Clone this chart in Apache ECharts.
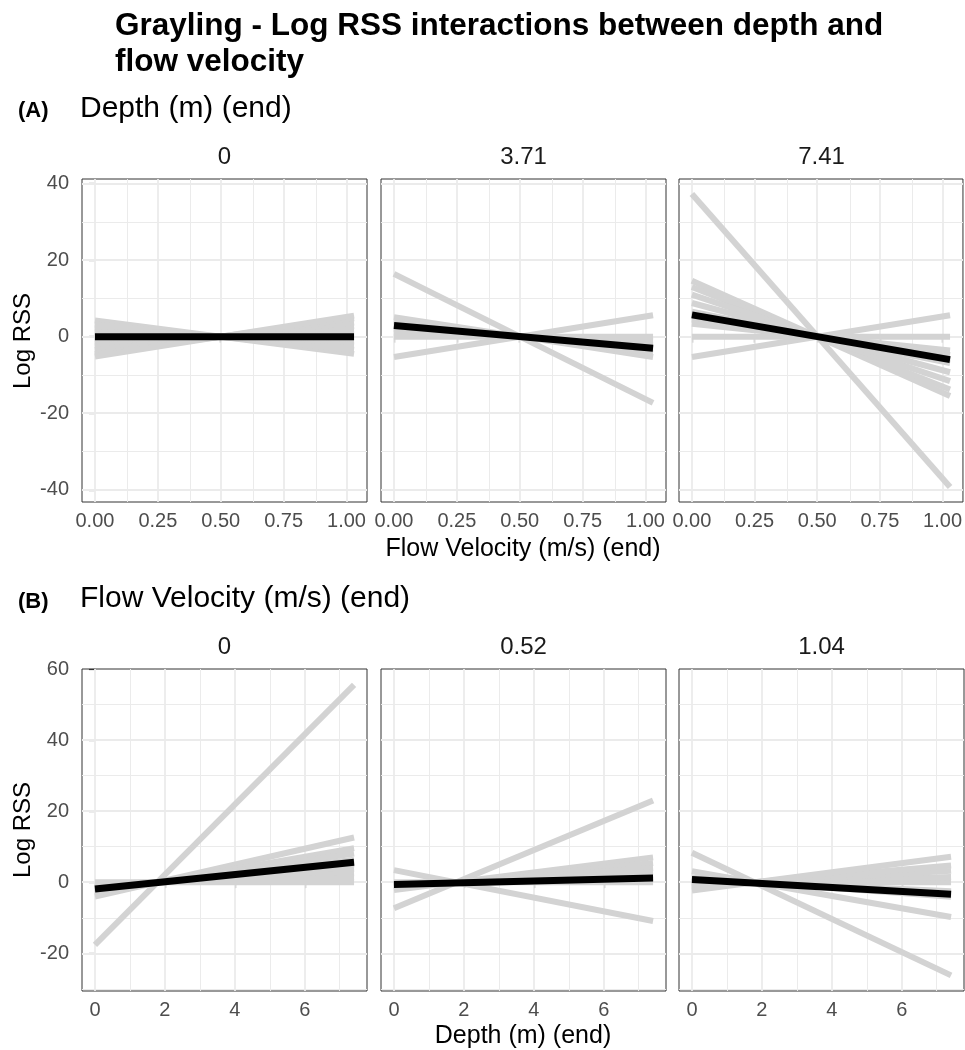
<!DOCTYPE html>
<html>
<head>
<meta charset="utf-8">
<script src="https://cdn.jsdelivr.net/npm/echarts@6/dist/echarts.min.js"></script>
<style>
  html, body { margin: 0; padding: 0; background: #fff; }
  #chart { width: 965px; height: 1050px; }
</style>
</head>
<body>
<div id="chart"></div>
<script>
// x end points of every fitted line
var velEnds = [0, 1.03];
var depthEnds = [0, 7.41];

// facet labels
var depthFacets = ['0', '3.71', '7.41'];
var velFacets = ['0', '0.52', '1.04'];

// tick labels
var velTicks = [0, 0.25, 0.5, 0.75, 1];
var depthTicks = [0, 2, 4, 6];
var rssTicksA = [-40, -20, 0, 20, 40];
var rssTicksB = [-20, 0, 20, 40, 60];

// gray lines: [log RSS at start, log RSS at end]
var depth0Gray = [[4.2, -4.5], [3.2, -3.4], [2.2, -2.3], [1.2, -1.3], [0.4, -0.4], [-0.5, 0.5],
    [-1.5, 1.6], [-2.5, 2.7], [-3.5, 3.7], [-4.5, 4.8], [-5.2, 5.5]];
var depth0Mean = [0, 0];
var depth371Gray = [[16.4, -17.3], [5.1, -5.3], [4, -4.2], [3, -3.2], [2, -2.1], [1, -1.1], [0, 0], [-5.3, 5.6]];
var depth371Mean = [2.9, -3.0];
var depth741Gray = [[37.3, -39.3], [14.6, -15.5], [13, -13.8], [11, -11.6], [8.8, -9.3], [6.5, -6.9],
    [4.5, -4.8], [3.4, -3.6], [0, 0], [-5.3, 5.6]];
var depth741Mean = [5.7, -6.0];

var vel0Gray = [[-17.6, 55.5], [-4, 12.6], [-3.1, 9.6], [-2.6, 8.1], [-2, 6.3], [-1.6, 5], [-1.2, 3.8],
    [-0.8, 2.5], [-0.4, 1.3], [0, 0]];
var vel0Mean = [-1.9, 5.6];
var vel052Gray = [[-7.3, 23], [3.4, -10.9], [-2.2, 7], [-1.7, 5.4], [-1.3, 4], [-0.9, 2.8], [-0.5, 1.6], [0, 0]];
var vel052Mean = [-0.6, 1.2];
var vel104Gray = [[8.3, -26.2], [3.1, -9.8], [1.3, -4.1], [0.8, -2.5], [0, 0], [-0.5, 1.5], [-1, 3.2],
    [-1.5, 4.7], [-2.3, 7.2]];
var vel104Mean = [0.8, -3.4];

var FONT = '"Liberation Sans", Arial, sans-serif';
var lefts = [82, 381, 679];
var panelW = 285;

var panels = [
    { row: 0, gray: depth0Gray, mean: depth0Mean },
    { row: 0, gray: depth371Gray, mean: depth371Mean },
    { row: 0, gray: depth741Gray, mean: depth741Mean },
    { row: 1, gray: vel0Gray, mean: vel0Mean },
    { row: 1, gray: vel052Gray, mean: vel052Mean },
    { row: 1, gray: vel104Gray, mean: vel104Mean }
];

var rows = [
    { top: 179, height: 323, xEnds: velEnds, xMin: -0.0515, xMax: 1.0815, xTicks: velTicks,
      xMinor: [0.125, 0.375, 0.625, 0.875], yMin: -43.2, yMax: 41.2, yTicks: rssTicksA,
      yMinor: [-30, -10, 10, 30], fmt: function (v) { return v.toFixed(2); } },
    { top: 669, height: 322, xEnds: depthEnds, xMin: -0.37, xMax: 7.78, xTicks: depthTicks,
      xMinor: [1, 3, 5, 7], yMin: -30.6, yMax: 60, yTicks: rssTicksB,
      yMinor: [-30, -10, 10, 30, 50], fmt: function (v) { return String(v); } }
];

var grids = [], xAxes = [], yAxes = [], series = [];

panels.forEach(function (p, i) {
    var r = rows[p.row];
    var col = i % 3;
    grids.push({
        left: lefts[col], top: r.top, width: panelW, height: r.height,
        show: true, borderColor: '#333333', borderWidth: 1, backgroundColor: '#fff'
    });
    xAxes.push({
        type: 'value', gridIndex: i, min: r.xMin, max: r.xMax,
        axisLine: { show: false },
        splitLine: { show: false },
        axisTick: { show: true, customValues: r.xTicks, length: 6, lineStyle: { color: '#333333', width: 1.2 } },
        axisLabel: { customValues: r.xTicks, formatter: r.fmt, color: '#4d4d4d', fontSize: 20,
            fontFamily: FONT, margin: 9 }
    });
    yAxes.push({
        type: 'value', gridIndex: i, min: r.yMin, max: r.yMax,
        axisLine: { show: false },
        splitLine: { show: false },
        axisTick: { show: col === 0, customValues: r.yTicks, length: 6, lineStyle: { color: '#333333', width: 1.2 } },
        axisLabel: { show: col === 0, customValues: r.yTicks, color: '#4d4d4d', fontSize: 20,
            fontFamily: FONT, margin: 13 }
    });

    // panel grid lines, placed through the axes
    var gl = [];
    r.xTicks.forEach(function (v) { gl.push({ xAxis: v, lineStyle: { width: 1.8 } }); });
    r.xMinor.forEach(function (v) { gl.push({ xAxis: v, lineStyle: { width: 1 } }); });
    r.yTicks.forEach(function (v) { if (v < r.yMax) gl.push({ yAxis: v, lineStyle: { width: 1.8 } }); });
    r.yMinor.forEach(function (v) { if (v > r.yMin) gl.push({ yAxis: v, lineStyle: { width: 1 } }); });
    series.push({
        type: 'line', xAxisIndex: i, yAxisIndex: i, data: [], z: 1, silent: true,
        markLine: {
            z: 1, silent: true, symbol: ['none', 'none'], animation: false,
            label: { show: false },
            lineStyle: { color: '#ebebeb', type: 'solid' },
            emphasis: { disabled: true },
            data: gl
        }
    });

    p.gray.forEach(function (g) {
        series.push({
            type: 'line', xAxisIndex: i, yAxisIndex: i, z: 2, silent: true,
            symbol: 'none', animation: false,
            lineStyle: { color: '#d3d3d3', width: 6, cap: 'butt' },
            data: [[r.xEnds[0], g[0]], [r.xEnds[1], g[1]]]
        });
    });
    series.push({
        type: 'line', xAxisIndex: i, yAxisIndex: i, z: 3, silent: true,
        symbol: 'none', animation: false,
        lineStyle: { color: '#000000', width: 7, cap: 'butt' },
        data: [[r.xEnds[0], p.mean[0]], [r.xEnds[1], p.mean[1]]]
    });
});

function txt(x, y, text, size, opts) {
    opts = opts || {};
    return {
        type: 'text', x: x, y: y, rotation: opts.rot || 0, z: 10,
        style: {
            text: text, fontSize: size, fontFamily: FONT, fontWeight: opts.bold ? 'bold' : 'normal',
            fill: opts.color || '#000', textAlign: opts.align || 'left', textVerticalAlign: 'middle'
        }
    };
}

var graphics = [
    txt(115, 26, 'Grayling - Log RSS interactions between depth and', 31.5, { bold: true }),
    txt(115, 62, 'flow velocity', 31.5, { bold: true }),
    txt(18, 111, '(A)', 22, { bold: true }),
    txt(80, 109, 'Depth (m) (end)', 30),
    txt(18, 602, '(B)', 22, { bold: true }),
    txt(80, 599, 'Flow Velocity (m/s) (end)', 30),
    txt(523, 549, 'Flow Velocity (m/s) (end)', 25, { align: 'center' }),
    txt(523, 1036, 'Depth (m) (end)', 25, { align: 'center' }),
    txt(23, 341, 'Log RSS', 24, { align: 'center', rot: Math.PI / 2 }),
    txt(23, 830, 'Log RSS', 24, { align: 'center', rot: Math.PI / 2 })
];
depthFacets.forEach(function (f, c) {
    graphics.push(txt(lefts[c] + panelW / 2, 157, f, 24, { align: 'center', color: '#1a1a1a' }));
});
velFacets.forEach(function (f, c) {
    graphics.push(txt(lefts[c] + panelW / 2, 647, f, 24, { align: 'center', color: '#1a1a1a' }));
});

var myChart = echarts.init(document.getElementById('chart'), null, { renderer: 'canvas' });
var option = {
    animation: false,
    backgroundColor: '#fff',
    grid: grids,
    xAxis: xAxes,
    yAxis: yAxes,
    graphic: graphics,
    series: series
};
myChart.setOption(option);
</script>
</body>
</html>
